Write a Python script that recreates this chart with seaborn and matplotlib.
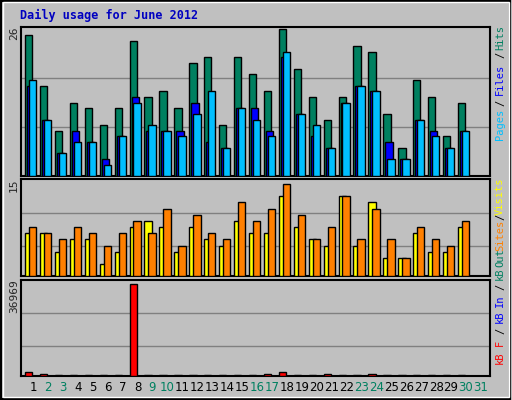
import numpy as np
import pandas as pd
import seaborn as sns
import matplotlib
matplotlib.use("Agg")
import matplotlib.pyplot as plt
from matplotlib.patches import Rectangle

days = list(range(1, 32))
hits  = [25,16,8,13,12,9,12,24,14,15,12,20,21,9,21,18,15,26,19,14,10,14,23,22,11,5,17,14,7,13,0]
files = [16,10,4,8,6,3,7,14,8,8,8,13,6,5,12,12,8,21,11,7,5,13,16,15,6,3,10,8,5,8,0]
pages = [17,10,4,6,6,2,7,13,9,8,7,11,15,5,12,10,7,22,11,9,5,13,16,15,3,3,10,7,5,8,0]
visits = [7,7,4,6,6,2,4,8,9,8,4,8,6,5,9,7,7,13,8,6,5,13,5,12,3,3,7,4,4,8,0]
sites  = [8,7,6,8,7,5,7,9,7,11,5,10,7,6,12,9,11,15,10,6,8,13,6,11,6,3,8,6,5,9,0]
kbytes = [1300,700,400,400,400,400,400,36969,400,400,400,400,400,400,400,400,700,1300,400,400,700,400,400,700,400,400,400,400,400,400,0]
weekend = {2,3,9,10,16,17,23,24,30,31}

sns.set_style("white")
plt.rcParams['font.family'] = ['DejaVu Sans Mono', 'DejaVu Sans']

GRAY = "#C0C0C0"
GREEN = "#008060"; BLUE = "#0000FF"; CYAN = "#00BFFF"
YEL = "#FFFF00"; ORG = "#FF8000"; RED = "#FF0000"

fig = plt.figure(figsize=(5.12, 4.0), dpi=100)
fig.patch.set_facecolor(GRAY)
fig.add_artist(Rectangle((0.002, 0.003), 0.995, 0.994, transform=fig.transFigure,
                         fill=False, edgecolor="black", lw=1.5))
fig.add_artist(Rectangle((0.006, 0.008), 0.988, 0.986, transform=fig.transFigure,
                         fill=False, edgecolor="white", lw=1))

L, W = 21/512, 469/512
def mkax(y0, y1):
    ax = fig.add_axes([L, 1 - y1/400, W, (y1 - y0)/400])
    ax.set_facecolor(GRAY)
    for s in ax.spines.values():
        s.set_color("black"); s.set_linewidth(1.5)
    ax.set_xlim(0.196, 31.61)
    ax.set_xticks([]); ax.set_yticks([])
    return ax

d = np.array(days, dtype=float)
kw = dict(align="edge", edgecolor="black", linewidth=1, zorder=3)

ax1 = mkax(27, 176)
ax1.set_ylim(0, 26.4)
for g in (26/3, 52/3):
    ax1.axhline(g, color="#808080", lw=1, zorder=1)
ax1.bar(d - 0.536, hits, width=0.49, color=GREEN, **kw)
ax1.bar(d - 0.40, files, width=0.49, color=BLUE, **kw)
ax1.bar(d - 0.27, pages, width=0.49, color=CYAN, **kw)

ax2 = mkax(179, 276.3)
ax2.set_ylim(0, 15.8)
for g in (5, 10.3):
    ax2.axhline(g, color="#808080", lw=1, zorder=1)
ax2.bar(d - 0.536, visits, width=0.49, color=YEL, **kw)
ax2.bar(d - 0.27, sites, width=0.49, color=ORG, **kw)

ax3 = mkax(280, 375.6)
ax3.set_ylim(0, 38583)
for g in (11946, 25265):
    ax3.axhline(g, color="#808080", lw=1, zorder=1)
ax3.bar(d - 0.536, kbytes, width=0.49, color=RED, **kw)
for i, day in enumerate(days):
    ax3.text(day, -0.06, str(day), transform=ax3.get_xaxis_transform(),
             ha="center", va="top", fontsize=8.5, family="DejaVu Sans",
             color=GREEN if day in weekend else "black")

def ft(x, y, s, **k):
    fig.text(x/512, 1 - y/400, s, **k)

ft(20, 15, "Daily usage for June 2012", color="#0000C0", fontsize=8.5,
   fontweight="bold", va="center", ha="left")
ft(14, 33, "26", rotation=90, fontsize=8, ha="center", va="center")
ft(14, 185, "15", rotation=90, fontsize=8, ha="center", va="center")
ft(14, 296, "36969", rotation=90, fontsize=8, ha="center", va="center")

pieces = [(38, "Hits", GREEN), (55, "/", "black"), (79, "Files", BLUE), (103, "/", "black"),
          (124, "Pages", CYAN),
          (196, "Visits", YEL), (217, "/", "black"), (235, "Sites", ORG), (258, "Out", GREEN),
          (274, "kB", GREEN), (287, "/", "black"), (301, "In", BLUE), (317, "kB", BLUE),
          (331, "/", "black"), (343, "F", RED), (358, "kB", RED)]
for y, s, c in pieces:
    ft(500, y, s, rotation=90, color=c, fontsize=7.5, ha="center", va="center")

fig.savefig("out.png", dpi=100, facecolor=GRAY)
